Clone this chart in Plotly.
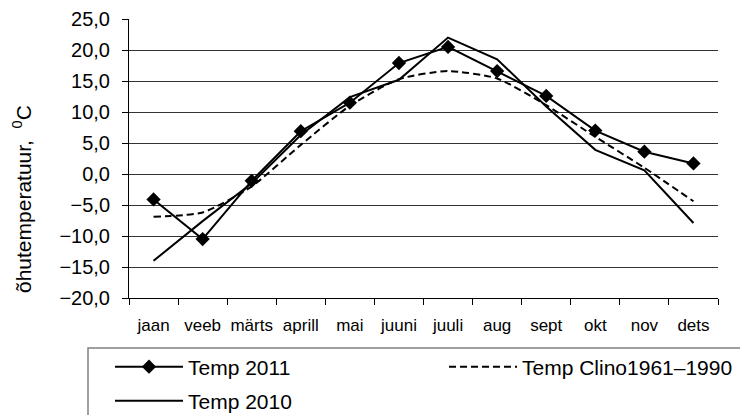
import plotly.graph_objects as go

months = ["jaan", "veeb", "märts", "aprill", "mai", "juuni", "juuli", "aug", "sept", "okt", "nov", "dets"]
temp_2011 = [-4.1, -10.5, -1.1, 6.9, 11.5, 17.9, 20.5, 16.6, 12.6, 7.0, 3.6, 1.7]
temp_2010 = [-14.0, -7.6, -1.5, 6.3, 12.4, 15.2, 22.0, 18.5, 10.9, 3.9, 0.6, -7.9]
temp_clino = [-6.9, -6.2, -2.0, 4.7, 11.0, 15.3, 16.6, 15.4, 11.1, 6.0, 1.0, -4.4]
y_ticks = [-20, -15, -10, -5, 0, 5, 10, 15, 20, 25]

FONT = "Liberation Sans, Arial, sans-serif"

fig = go.Figure()
fig.add_trace(go.Scatter(
    x=months, y=temp_2011, name="Temp 2011", mode="lines+markers",
    line=dict(color="black", width=2),
    marker=dict(symbol="diamond", size=11, color="black"),
    legend="legend",
))
fig.add_trace(go.Scatter(
    x=months, y=temp_clino, name="Temp Clino1961\u20131990", mode="lines",
    line=dict(color="black", width=2, dash="7px,4px", shape="spline", smoothing=0.6),
    legend="legend3",
))
fig.add_trace(go.Scatter(
    x=months, y=temp_2010, name="Temp 2010", mode="lines",
    line=dict(color="black", width=2),
    legend="legend2",
))

# page has an 8px body margin, so the figure is drawn 8px smaller
OFF = 8
W, H = 748 - OFF, 415 - OFF
L, R, T, B = 129 - OFF, 30, 19 - OFF, 117
pw, ph = W - L - R, H - T - B

def px(xp):
    return (xp - OFF - L) / pw

def py(yp):
    return (H - B - (yp - OFF)) / ph

leg_common = dict(
    orientation="h", xanchor="left", yanchor="middle",
    font=dict(size=21, family=FONT), itemwidth=68,
    bgcolor="rgba(0,0,0,0)", borderwidth=0,
)

fig.update_layout(
    width=W, height=H,
    margin=dict(l=L, r=R, t=T, b=B, pad=0, autoexpand=False),
    paper_bgcolor="white", plot_bgcolor="white",
    separators=", ",
    font=dict(family=FONT, color="black"),
    xaxis=dict(
        type="category", tickson="boundaries", ticks="outside", ticklen=6,
        tickcolor="black", showline=True, linecolor="black", linewidth=1,
        showgrid=False, tickfont=dict(size=17, family=FONT), tickangle=0,
        ticklabelstandoff=12, range=[-0.5, 11.5],
    ),
    yaxis=dict(
        range=[-20, 25], tickvals=y_ticks, tickformat=".1f",
        ticks="outside", ticklen=6, tickcolor="black",
        showline=True, linecolor="black", linewidth=1,
        showgrid=True, gridcolor="#333333", gridwidth=1,
        zeroline=False, tickfont=dict(size=20, family=FONT),
        ticklabelstandoff=8,
    ),
    legend=dict(x=px(110), y=py(367), **leg_common),
    legend3=dict(x=px(444), y=py(367), **leg_common),
    legend2=dict(x=px(110), y=py(401), **leg_common),
    showlegend=True,
)

# y-axis title as rotated annotation
fig.add_annotation(
    text="õhutemperatuur,  <sup>0</sup>C", textangle=-90,
    xref="paper", yref="paper", x=px(22), y=py(199),
    xanchor="center", yanchor="middle", showarrow=False,
    font=dict(size=21, family=FONT, color="black"),
)

# legend frame (top and left edges visible, rest runs off the canvas)
fig.add_shape(
    type="rect", xref="paper", yref="paper",
    x0=px(88), x1=px(800), y0=py(348), y1=py(460),
    line=dict(color="#808080", width=1.5), fillcolor="rgba(0,0,0,0)",
    layer="above",
)

fig.write_html("out.html")
